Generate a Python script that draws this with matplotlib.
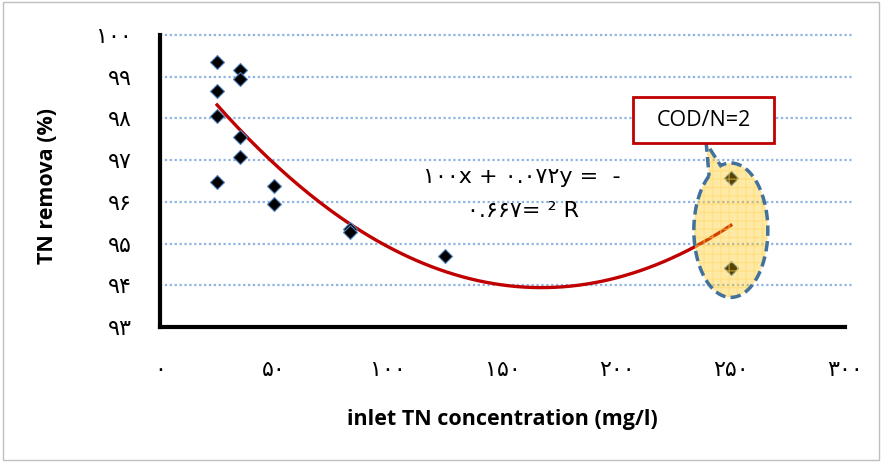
import numpy as np
import matplotlib.pyplot as plt
from matplotlib.patches import Polygon, Rectangle

# data
inlet_tn = [25, 25, 25, 25, 35, 35, 35, 35, 50, 50, 83, 83, 125, 250, 250]
tn_removal = [99.35, 98.66, 98.06, 96.47, 99.16, 98.94, 97.55, 97.07,
              96.38, 95.96, 95.36, 95.28, 94.70, 96.57, 94.41]
trend_coef = [0.000217, -0.0725, 100.0]   # y = a x^2 + b x + c
trend_range = [25, 250]

x_ticks = [0, 50, 100, 150, 200, 250, 300]
x_ticklabels = ["۰", "۵۰", "۱۰۰", "۱۵۰", "۲۰۰", "۲۵۰", "۳۰۰"]
y_ticks = [93, 94, 95, 96, 97, 98, 99, 100]
y_ticklabels = ["۹۳", "۹۴", "۹۵", "۹۶", "۹۷", "۹۸", "۹۹", "۱۰۰"]

eq_line1 = "۱۰۰x + ۰.۰۷۲y =  -"
eq_line2 = "۰.۶۶۷= ² R"

fig = plt.figure(figsize=(8.83, 4.63), dpi=100)
fig.patches.append(Rectangle((0.003, 0.006), 0.992, 0.99, transform=fig.transFigure,
                             fill=False, edgecolor="#BFBFBF", lw=1))
ax = fig.add_axes([160/883, 1-327/463, 685/883, 292/463])

ax.set_xlim(0, 300)
ax.set_ylim(93, 100)

for v in y_ticks[1:]:
    ax.plot([0, 303], [v, v], color="#8EB4E3", lw=1.6, ls=(0, (1, 1.2)),
            zorder=1, clip_on=False)

ax.plot(inlet_tn, tn_removal, ls="none", marker="D", ms=7, mfc="black",
        mec="#4F81BD", mew=0.8, zorder=3)

xs = np.linspace(trend_range[0], trend_range[1], 200)
ax.plot(xs, np.polyval(trend_coef, xs), color="#C00000", lw=2.4, zorder=2)

for s in ["top", "right"]:
    ax.spines[s].set_visible(False)
for s in ["left", "bottom"]:
    ax.spines[s].set_linewidth(3)
    ax.spines[s].set_color("black")

ax.set_xticks(x_ticks)
ax.set_xticklabels(x_ticklabels, fontsize=16)
ax.set_yticks(y_ticks)
ax.set_yticklabels(y_ticklabels, fontsize=16)
ax.tick_params(axis="x", length=0, pad=24)
ax.tick_params(axis="y", length=0, pad=20)

fig.text(48/883, 1-186/463, "TN remova (%)", rotation=90, ha="center", va="center",
         fontsize=15.5, fontweight="bold", family="Open Sans")
fig.text(502/883, 1-420/463, "inlet TN concentration (mg/l)", ha="center", va="center",
         fontsize=15.5, fontweight="bold", family="Open Sans")

fig.text(522/883, 1-177/463, eq_line1, ha="center", va="center", fontsize=16)
fig.text(523/883, 1-211/463, eq_line2, ha="center", va="center", fontsize=16)

# callout bubble
cx, cy, a, b = 250, 95.32, 16.2, 1.61
t1 = np.linspace(np.radians(126), np.radians(360 + 106), 200)
bx = cx + a*np.cos(t1)
by = cy + b*np.sin(t1)
pts = np.column_stack([np.append(bx, 239.2), np.append(by, 97.41)])
ax.add_patch(Polygon(pts, closed=True, facecolor="#FFC000", alpha=0.35,
                     edgecolor="none", zorder=4, clip_on=False))
ax.add_patch(Polygon(pts, closed=True, fill=False, hatch="++", edgecolor="#FFD966",
                     lw=0, alpha=0.5, zorder=4, clip_on=False))
ax.add_patch(Polygon(pts, closed=True, fill=False, edgecolor="#41719C", lw=2.5,
                     ls=(0, (3, 1.5)), zorder=5, clip_on=False))

ax.add_patch(Rectangle((207.2, 97.41), 61.7, 1.10, facecolor="white",
                       edgecolor="#C00000", lw=2, zorder=6, clip_on=False))
ax.text(238, 97.96, "COD/N=2", ha="center", va="center", fontsize=15.5,
        family="Open Sans", zorder=7)

fig.savefig("out.png", dpi=100)
